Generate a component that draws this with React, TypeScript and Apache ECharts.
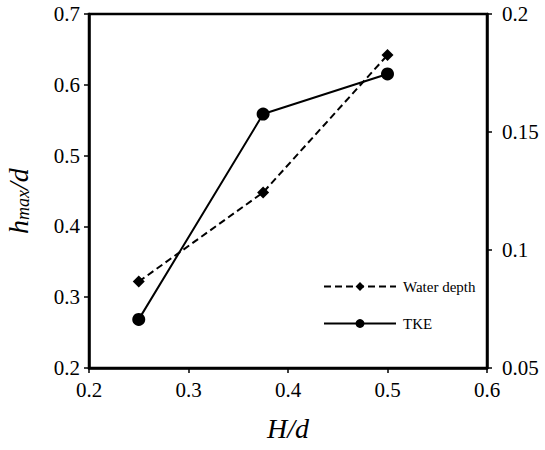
import React, { useEffect, useRef } from "react";
import * as echarts from "echarts";

const xValues = [0.25, 0.375, 0.5];
const waterDepth = [0.322, 0.448, 0.642];
const tke = [0.0706, 0.1576, 0.1746];
const seriesNames = ["Water depth", "TKE"];

const FONT = "'Liberation Serif', 'Times New Roman', serif";

export default function App() {
  const ref = useRef<HTMLDivElement>(null);
  useEffect(() => {
    if (!ref.current) return;
    const chart = echarts.init(ref.current, null, { renderer: "svg" });
    const axisLine = { show: true, lineStyle: { color: "#000", width: 2.5 } };
    const axisTick = { show: true, inside: false, length: 5, lineStyle: { color: "#000", width: 1.5 } };
    const labelStyle = { color: "#000", fontFamily: FONT, fontSize: 21 };
    chart.setOption({
      animation: false,
      backgroundColor: "#fff",
      grid: {
        left: 89,
        right: 58,
        top: 14,
        bottom: 82,
        show: true,
        borderColor: "#000",
        borderWidth: 2.5,
        containLabel: false,
        outerBoundsMode: "none",
      },
      legend: {
        orient: "vertical",
        left: 323,
        top: 279,
        padding: 0,
        itemWidth: 72,
        itemHeight: 11,
        itemGap: 22,
        data: seriesNames,
        textStyle: { color: "#000", fontFamily: FONT, fontSize: 15, padding: [0, 0, 0, 2] },
      },
      xAxis: {
        type: "value",
        min: 0.2,
        max: 0.6,
        interval: 0.1,
        axisLine,
        axisTick,
        splitLine: { show: false },
        axisLabel: { ...labelStyle, margin: 11, formatter: (v: number) => v.toFixed(1) },
        name: "H/d",
        nameLocation: "middle",
        nameGap: 46,
        nameTextStyle: { color: "#000", fontFamily: FONT, fontSize: 28, fontStyle: "italic" },
      },
      yAxis: [
        {
          type: "value",
          min: 0.2,
          max: 0.7,
          interval: 0.1,
          position: "left",
          axisLine,
          axisTick,
          splitLine: { show: false },
          axisLabel: { ...labelStyle, margin: 9, formatter: (v: number) => v.toFixed(1) },
          name: "{i|h}{s|max}{i|/d}",
          nameLocation: "middle",
          nameGap: 57,
          nameRotate: 90,
          nameTextStyle: {
            color: "#000",
            fontFamily: FONT,
            padding: [0, 20, 0, 0],
            rich: {
              i: { fontFamily: FONT, fontSize: 28, fontStyle: "italic", color: "#000", verticalAlign: "bottom", lineHeight: 30 },
              s: { fontFamily: FONT, fontSize: 18, fontStyle: "italic", color: "#000", verticalAlign: "bottom", lineHeight: 22 },
            },
          },
        },
        {
          type: "value",
          min: 0.05,
          max: 0.2,
          interval: 0.05,
          position: "right",
          axisLine,
          axisTick,
          splitLine: { show: false },
          axisLabel: { ...labelStyle, margin: 15, formatter: (v: number) => String(+v.toFixed(2)) },
        },
      ],
      series: [
        {
          name: seriesNames[0],
          type: "line",
          yAxisIndex: 0,
          data: xValues.map((x, i) => [x, waterDepth[i]]),
          symbol: "diamond",
          symbolSize: 12,
          itemStyle: { color: "#000" },
          lineStyle: { color: "#000", width: 2, type: [7, 4] },
        },
        {
          name: seriesNames[1],
          type: "line",
          yAxisIndex: 1,
          data: xValues.map((x, i) => [x, tke[i]]),
          symbol: "circle",
          symbolSize: 13,
          itemStyle: { color: "#000" },
          lineStyle: { color: "#000", width: 2, type: "solid" },
        },
      ],
    });
    return () => chart.dispose();
  }, []);
  return (
    <div
      ref={ref}
      style={{ position: "fixed", left: 0, top: 0, width: 545, height: 450, background: "#fff" }}
    />
  );
}
